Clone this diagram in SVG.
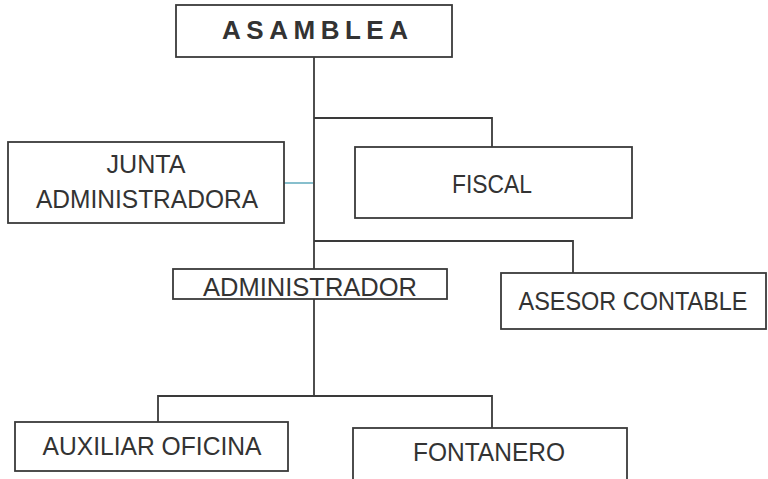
<svg xmlns="http://www.w3.org/2000/svg" width="768" height="479" viewBox="0 0 768 479">
<style>
.box{fill:#fff;stroke:#3a3a3a;stroke-width:1.8}
.t{font-family:"Liberation Sans",Arial,sans-serif;font-size:25px;fill:#333;text-anchor:middle}
.tb{font-family:"Liberation Sans",Arial,sans-serif;font-size:26px;font-weight:bold;fill:#333;text-anchor:middle}
.ln{fill:none;stroke:#3a3a3a;stroke-width:1.8}
</style>
<rect width="768" height="479" fill="#fff"/>
<g id="connectors">
<path class="ln" d="M314 57 V397"/>
<path class="ln" d="M314 118 H492 V147"/>
<path class="ln" d="M314 241 H573 V273"/>
<path class="ln" d="M158 422 V396 H492 V428"/>
<path d="M284 183 H313" fill="none" stroke="#7ab8c8" stroke-width="1.8"/>
</g>
<g id="asamblea"><rect class="box" x="176" y="5" width="276" height="52"/><text class="tb" x="315" y="39" textLength="186" lengthAdjust="spacing">ASAMBLEA</text></g>
<g id="junta"><rect class="box" x="8" y="142" width="276" height="81"/><text class="t" x="146" y="173" textLength="79" lengthAdjust="spacingAndGlyphs">JUNTA</text><text class="t" x="147" y="208" textLength="222" lengthAdjust="spacingAndGlyphs">ADMINISTRADORA</text></g>
<g id="fiscal"><rect class="box" x="355" y="147" width="277" height="71"/><text class="t" x="492" y="193" textLength="80" lengthAdjust="spacingAndGlyphs">FISCAL</text></g>
<g id="administrador"><rect class="box" x="173" y="269" width="274" height="30"/><text class="t" x="310" y="296" textLength="214" lengthAdjust="spacingAndGlyphs">ADMINISTRADOR</text></g>
<g id="asesor"><rect class="box" x="501" y="273" width="265" height="56"/><text class="t" x="633" y="310" textLength="229" lengthAdjust="spacingAndGlyphs">ASESOR CONTABLE</text></g>
<g id="auxiliar"><rect class="box" x="15" y="422" width="273" height="49"/><text class="t" x="152" y="455" textLength="219" lengthAdjust="spacingAndGlyphs">AUXILIAR OFICINA</text></g>
<g id="fontanero"><rect class="box" x="353" y="428" width="274" height="60"/><text class="t" x="489" y="461" textLength="152" lengthAdjust="spacingAndGlyphs">FONTANERO</text></g>
</svg>
